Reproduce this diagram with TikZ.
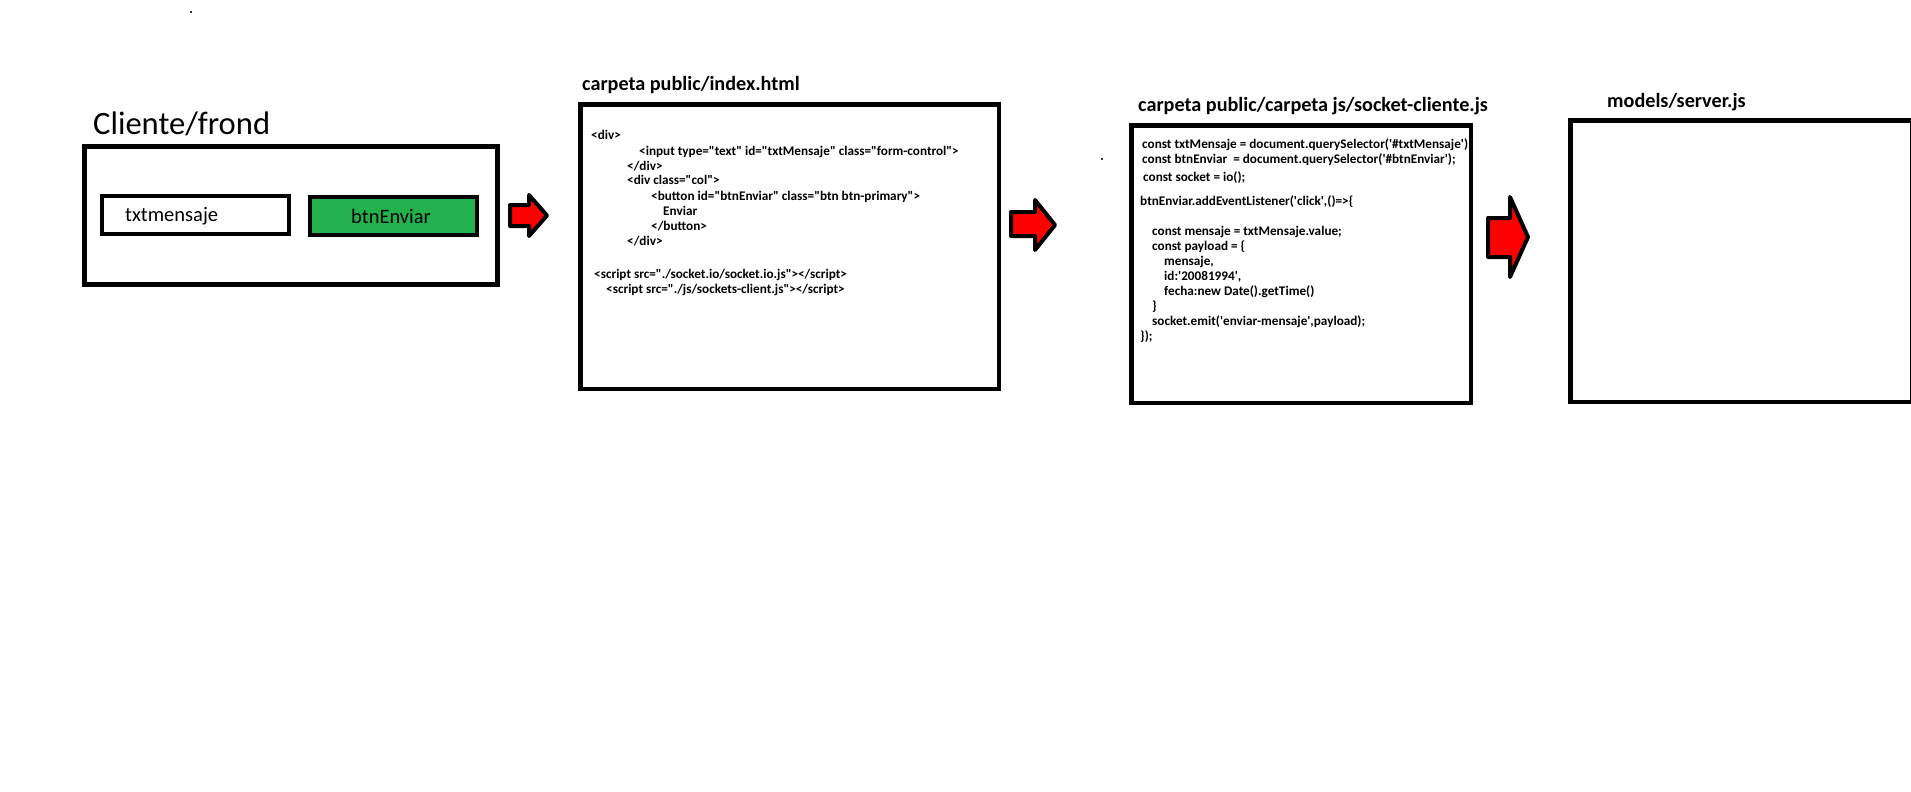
\documentclass[tikz,border=0pt]{standalone}
\usepackage{fontspec}
\newfontfamily\calfont{Carlito}
\definecolor{paintgreen}{HTML}{22B14C}
\definecolor{paintred}{HTML}{FF0000}
\tikzset{
  bigbox/.style={draw=black, line width=4.5pt, fill=white},
  smallbox/.style={draw=black, line width=4pt},
  blockarrow/.style={draw=black, line width=4pt, fill=paintred, line join=round},
  titletext/.style={anchor=base west, inner sep=0pt, font=\calfont\bfseries\fontsize{20.2}{24}\selectfont},
  bigtext/.style={anchor=base west, inner sep=0pt, font=\calfont\fontsize{32.6}{38}\selectfont},
  fieldtext/.style={anchor=base west, inner sep=0pt, font=\calfont\fontsize{20.5}{24}\selectfont},
  codetext/.style={anchor=base west, inner sep=0pt, font=\calfont\bfseries\fontsize{13.2}{15}\selectfont},
  dotmark/.style={fill=black!80, draw=none}
}
\begin{document}
\begin{tikzpicture}[x=1pt,y=-1pt]
\useasboundingbox (0,0) rectangle (1911,792);
\fill[white] (0,0) rectangle (1911,792);

% stray dots
\fill[dotmark] (189.5,11) rectangle (191.5,13);
\fill[dotmark] (1101,158) rectangle (1103,160);

% Cliente/frond
\node[bigtext] (tcli) at (93,134) {Cliente/frond};
\draw[bigbox] (84.3,146.3) rectangle (497.7,284.7);
\draw[smallbox, fill=white] (102,196) rectangle (289,234);
\node[fieldtext] (ttxt) at (125,221) {txtmensaje};
\draw[smallbox, fill=paintgreen] (310,197) rectangle (477,235);
\node[fieldtext] (tbtn) at (351,223) {btnEnviar};

% arrow 1
\draw[blockarrow] (510,205) -- (529,205) -- (529,195) -- (547,215.5) -- (529,236) -- (529,226) -- (510,226) -- cycle;

% index.html
\node[titletext] (tidx) at (582,91) {carpeta public/index.html};
\draw[bigbox] (580.25,104.25) rectangle (998.75,388.75);
\node[codetext] (i1) at (591,139.3) {<div>};
\node[codetext] (i2) at (639,155) {<input type="text" id="txtMensaje" class="form-control">};
\node[codetext] (i3) at (627,170) {</div>};
\node[codetext] (i4) at (627,184.5) {<div class="col">};
\node[codetext] (i5) at (651,200) {<button id="btnEnviar" class="btn btn-primary">};
\node[codetext] (i6) at (663,215) {Enviar};
\node[codetext] (i7) at (651,230) {</button>};
\node[codetext] (i8) at (627,245) {</div>};
\node[codetext] (i9) at (594,278.3) {<script src="./socket.io/socket.io.js"></script>};
\node[codetext] (i10) at (606,293.3) {<script src="./js/sockets-client.js"></script>};

% arrow 2
\draw[blockarrow] (1011,212) -- (1035,212) -- (1035,200) -- (1055,225) -- (1035,250) -- (1035,236) -- (1011,236) -- cycle;

% socket-cliente.js
\node[titletext] (tjs) at (1138,111) {carpeta public/carpeta js/socket-cliente.js};
\draw[bigbox] (1131.25,125.25) rectangle (1470.75,402.75);
\node[codetext] (c1) at (1142,148) {const txtMensaje = document.querySelector('\#txtMensaje');};
\node[codetext] (c2) at (1142,163) {const btnEnviar\ \ = document.querySelector('\#btnEnviar');};
\node[codetext] (c3) at (1143,181) {const socket = io();};
\node[codetext] (c4) at (1140,205.5) {btnEnviar.addEventListener('click',()=>\{};
\node[codetext] (c6) at (1152,235.5) {const mensaje = txtMensaje.value;};
\node[codetext] (c7) at (1152,250.5) {const payload = \{};
\node[codetext] (c8) at (1164,265.5) {mensaje,};
\node[codetext] (c9) at (1164,280.5) {id:'20081994',};
\node[codetext] (c10) at (1164,295.5) {fecha:new Date().getTime()};
\node[codetext] (c11) at (1152,310.5) {\}};
\node[codetext] (c12) at (1152,325.5) {socket.emit('enviar-mensaje',payload);};
\node[codetext] (c13) at (1140,340.5) {\});};

% arrow 3
\draw[blockarrow] (1488,218) -- (1510,218) -- (1510,197) -- (1528,237) -- (1510,277) -- (1510,257) -- (1488,257) -- cycle;

% server.js
\node[titletext] (tsrv) at (1607,107) {models/server.js};
\draw[bigbox] (1570.25,120.25) rectangle (1911.75,401.75);
\end{tikzpicture}
\end{document}
